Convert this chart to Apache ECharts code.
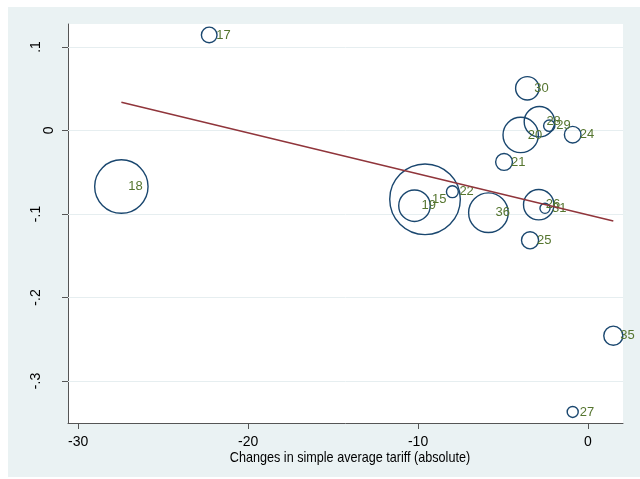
<!DOCTYPE html>
<html>
<head>
<meta charset="utf-8">
<script src="https://cdn.jsdelivr.net/npm/echarts@6/dist/echarts.min.js"></script>
<style>
html,body{margin:0;padding:0;background:#fff;}
#bg{position:absolute;left:8px;top:7px;width:632px;height:470px;background:#eaf2f3;}
#chart{position:absolute;left:0;top:0;width:640px;height:479px;}
</style>
</head>
<body>
<div id="bg"></div>
<div id="chart"></div>
<script>
// ---- data ----
const labels  = ['17','18','30','28','29','20','24','21','22','15','19','36','26','31','25','35','27'];
const tariffChange = [-22.29,-27.46,-3.57,-2.86,-2.28,-3.96,-0.90,-4.94,-7.98,-9.59,-10.21,-5.86,-2.90,-2.53,-3.41,1.49,-0.90];
const outcome = [0.1144,-0.0671,0.0505,0.0105,0.0057,-0.0054,-0.0050,-0.0377,-0.0733,-0.0824,-0.0901,-0.0984,-0.0889,-0.0932,-0.1315,-0.2457,-0.3371];
const weights = [5.6,57.9,11.9,19.5,3.1,26.1,6.25,6.4,3.4,100,20.9,32.4,19.5,2.55,6.6,8.1,2.97];
const fitX = [-27.46, 1.49];
const fitY = [0.0338, -0.1084];
const xTicks = [-30,-20,-10,0];
const yTicks = [-0.3,-0.2,-0.1,0,0.1];
const xTitle = 'Changes in simple average tariff (absolute)';

// ---- chart ----
const NAVY = '#1a476f', GREEN = '#55752f', MAROON = '#90353b';
const AXIS = '#555';
const maxW = Math.max(...weights);
const MAX_R = 36, LW = 1.4;
function stataFmt(v){
  const r = Math.round(v*10)/10;
  if (r === 0) return '0';
  let s = String(Math.abs(r)).replace(/^0\./,'.');
  return (r < 0 ? '-' : '') + s;
}
const scatterData = labels.map((l,i)=>({value:[tariffChange[i], outcome[i], weights[i]], name:l}));
const chart = echarts.init(document.getElementById('chart'), null, {renderer:'canvas'});
chart.setOption({
  backgroundColor: 'transparent',
  animation: false,
  textStyle: {fontFamily: 'Liberation Sans, Arial, sans-serif'},
  grid: {left:68, right:17, top:24, bottom:56, show:true, backgroundColor:'#fff', borderWidth:0},
  graphic: [{
    type:'text', x:350, y:457.5, scaleX:0.87, scaleY:1, silent:true,
    style:{text:xTitle, fill:'#000', font:'14.5px "Liberation Sans", Arial, sans-serif',
      textAlign:'center', textVerticalAlign:'middle'}
  }],
  xAxis: {
    type:'value', min:-30.6, max:2.06,
    axisLine:{show:true, onZero:false, lineStyle:{color:AXIS, width:1}},
    axisTick:{show:true, length:6, customValues:xTicks, lineStyle:{color:AXIS, width:1}},
    axisLabel:{customValues:xTicks, fontSize:14, color:'#000', margin:12, formatter: v=>String(v)},
    splitLine:{show:false}
  },
  yAxis: {
    type:'value', min:-0.3503, max:0.1275,
    axisLine:{show:true, onZero:false, lineStyle:{color:AXIS, width:1}},
    axisTick:{show:true, length:6, customValues:yTicks, lineStyle:{color:AXIS, width:1}},
    axisLabel:{customValues:yTicks, rotate:90, fontSize:14, color:'#000', margin:12,
      formatter: v => { const s = stataFmt(v); return s === '0' ? '{z|0}' : '{o|' + s + '}'; },
      rich:{ z:{fontSize:14, color:'#000'}, o:{fontSize:14, color:'#000', padding:[0,0,13,0]} }
    },
    splitLine:{show:false}
  },
  series: [
    { type:'line', data:[], z:1, silent:true,
      markLine:{ z:1, silent:true, symbol:'none', label:{show:false},
        lineStyle:{color:'#e6eef0', width:1, type:'solid'},
        data: yTicks.map(v=>({yAxis:v})) } },
    { type:'scatter', z:2, data: scatterData,
      symbol:'circle',
      symbolSize: v => 2*MAX_R*Math.sqrt(v[2]/maxW) - LW,
      itemStyle:{color:'rgba(0,0,0,0)', borderColor:NAVY, borderWidth:LW, opacity:1},
      label:{show:true, position:['50%','50%'], offset:[7,0], align:'left', verticalAlign:'middle',
        formatter: p=>p.name, color:GREEN, fontSize:13, fontFamily:'Liberation Sans, Arial, sans-serif'},
      emphasis:{disabled:true}
    },
    { type:'line', z:3, data: fitX.map((x,i)=>[x, fitY[i]]), showSymbol:false, symbol:'none',
      lineStyle:{color:MAROON, width:1.5}, silent:true }
  ]
});
</script>
</body>
</html>
